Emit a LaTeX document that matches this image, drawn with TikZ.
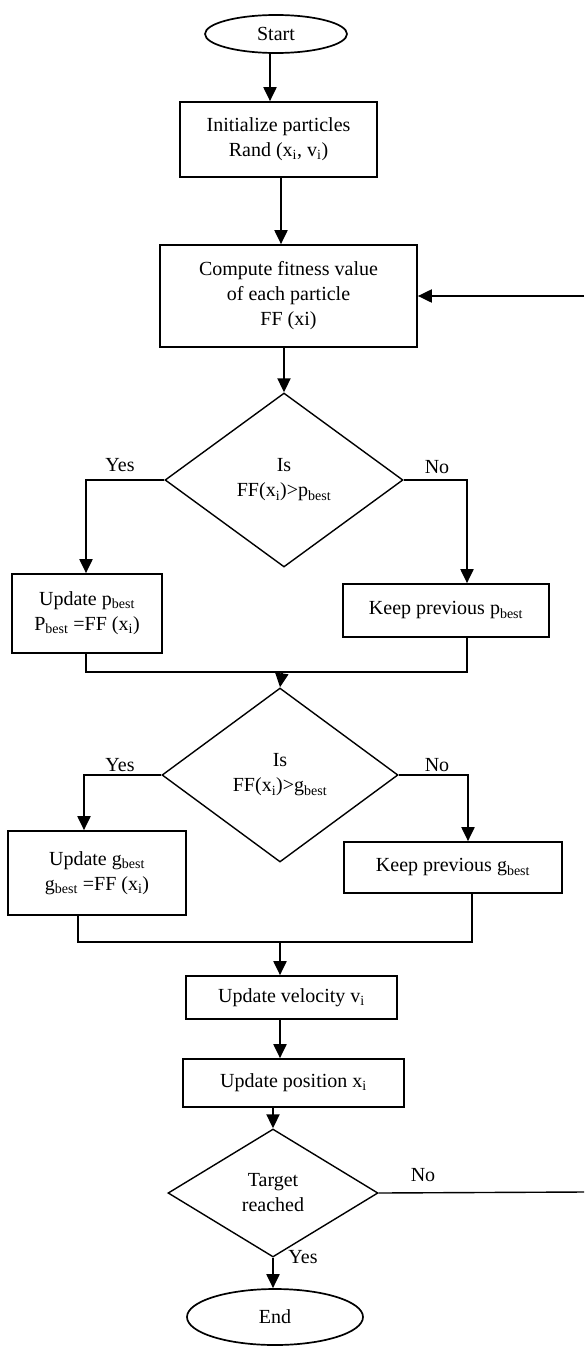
\documentclass[tikz,border=0pt]{standalone}
\usepackage{fontspec}
\setmainfont{Liberation Serif}
\usetikzlibrary{shapes.geometric,arrows.meta}
\newcommand{\sbx}[1]{\textsubscript{#1}}
\begin{document}
\begin{tikzpicture}[x=1pt,y=-1pt,line width=1.7pt,
  font=\fontsize{20}{25}\selectfont,
  box/.style={draw,rectangle,align=center,inner sep=0pt},
  term/.style={draw,ellipse,inner sep=0pt},
  dec/.style={draw,diamond,align=center,inner sep=0pt,line width=1.4pt},
  arr/.style={line width=2pt,-{Triangle[length=14pt,width=13pt]}},
  lbl/.style={inner sep=0pt}]
\useasboundingbox (0,0) rectangle (584,1346);
% nodes
\node[term,minimum width=142pt,minimum height=38pt] (start) at (276,34) {Start};
\node[box,minimum width=197pt,minimum height=75pt] (init) at (278.5,139.5) {Initialize particles\\Rand (x\sbx{i}, v\sbx{i})};
\node[box,minimum width=257pt,minimum height=102pt] (comp) at (288.5,296) {Compute fitness value\\of each particle\\FF (xi)};
\node[dec,minimum width=238pt,minimum height=174pt] (d1) at (284,480) {Is\\FF(x\sbx{i})>p\sbx{best}};
\node[box,minimum width=150pt,minimum height=79pt] (u1) at (87,613.5) {Update p\sbx{best}\\P\sbx{best} =FF (x\sbx{i})};
\node[box,minimum width=206pt,minimum height=53pt] (k1) at (446,610.5) {Keep previous p\sbx{best}};
\node[dec,minimum width=236pt,minimum height=174pt] (d2) at (280,775) {Is\\FF(x\sbx{i})>g\sbx{best}};
\node[box,minimum width=178pt,minimum height=84pt] (u2) at (97,873) {Update g\sbx{best}\\g\sbx{best} =FF (x\sbx{i})};
\node[box,minimum width=218pt,minimum height=51pt] (k2) at (453,867.5) {Keep previous g\sbx{best}};
\node[box,minimum width=211pt,minimum height=43pt] (vel) at (291.5,997.5) {Update velocity v\sbx{i}};
\node[box,minimum width=221pt,minimum height=48pt] (pos) at (293.5,1083) {Update position x\sbx{i}};
\node[dec,minimum width=210pt,minimum height=128pt] (d3) at (273,1193) {Target\\reached};
\node[term,minimum width=176pt,minimum height=56pt] (end) at (275,1317) {End};
% helper coordinates
\coordinate (ya) at (86,0);
\coordinate (na) at (467,0);
\coordinate (yb) at (84,0);
\coordinate (nb) at (468,0);
\coordinate (m1) at (282,672);
\coordinate (m2) at (280,942);
\coordinate (fb) at (584,296);
\coordinate (tg) at (584,1192);
% connectors
\draw[arr] (start.south -| 270,0) -- (init.north -| 270,0);
\draw[arr] (init.south -| 281,0) -- (comp.north -| 281,0);
\draw[arr] (comp.south -| d1.north) -- (d1.north);
\draw[arr] (d1.west) -| (ya |- u1.north);
\draw[arr] (d1.east) -| (na |- k1.north);
\draw (ya |- u1.south) |- (m1);
\draw (na |- k1.south) |- (m1);
\draw[arr] (m1) -- (d2.north);
\draw[arr] (d2.west) -| (yb |- u2.north);
\draw[arr] (d2.east) -| (nb |- k2.north);
\draw (78,0 |- u2.south) |- (m2);
\draw (472,0 |- k2.south) |- (m2);
\draw[arr] (m2) -- (m2 |- vel.north);
\draw[arr] (vel.south -| m2) -- (pos.north -| m2);
\draw[arr] (pos.south -| d3.north) -- (d3.north);
\draw[arr] (d3.south) -- (d3.south |- end.north);
\draw[arr] (fb) -- (comp.east);
\draw[line width=1.4pt] (d3.east) -- (tg);
% labels
\node[lbl] at (120,465) {Yes};
\node[lbl] at (437,467) {No};
\node[lbl] at (120,765) {Yes};
\node[lbl] at (437,765) {No};
\node[lbl] at (423,1175) {No};
\node[lbl] at (303,1257) {Yes};
\end{tikzpicture}
\end{document}
